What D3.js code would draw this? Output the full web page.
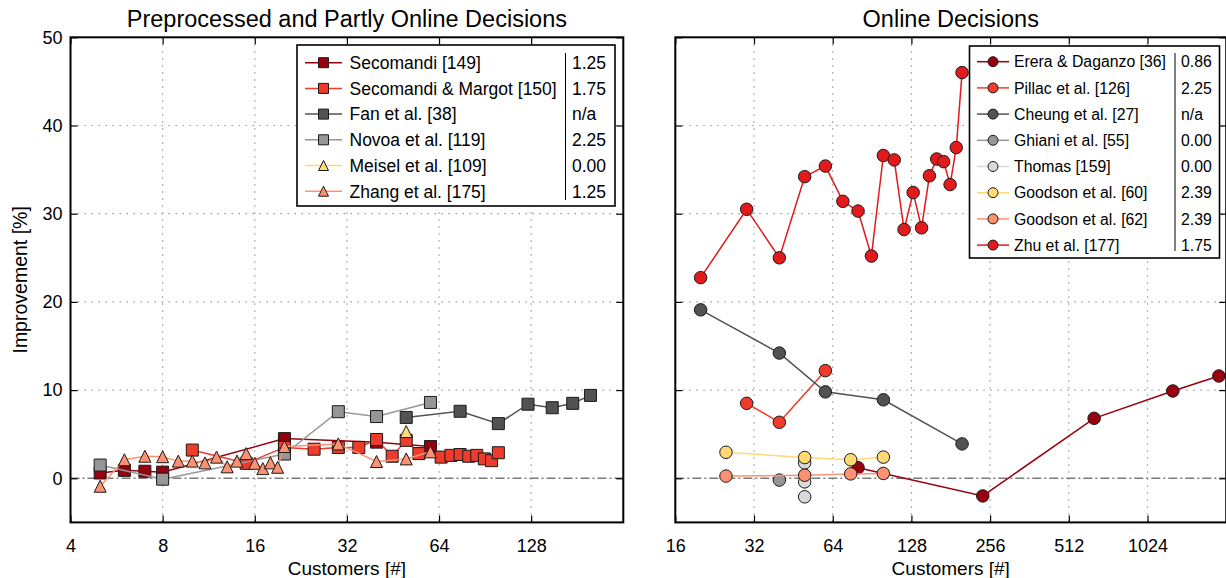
<!DOCTYPE html>
<html>
<head>
<meta charset="utf-8">
<script src="https://cdn.jsdelivr.net/npm/d3@7"></script>
<style>
  body { margin: 0; background: #fff; }
  svg { display: block; font-family: "Liberation Sans", Arial, Helvetica, sans-serif; }
</style>
</head>
<body>
<svg id="chart" width="1226" height="578"></svg>
<script>
// ---------- Left panel: preprocessed and partly online decisions ----------
const secomandiN   = [5, 6, 7, 8, 20, 40, 60];
const secomandiImp = [0.6, 0.9, 0.8, 0.7, 4.5, 4.1, 3.6];

const secMargotN   = [10, 15, 20, 25, 30, 35, 40, 45, 50, 55, 65, 70, 75, 80, 85, 90, 95, 100];
const secMargotImp = [3.2, 1.7, 3.5, 3.3, 3.5, 3.5, 4.4, 2.5, 4.3, 2.8, 2.4, 2.6, 2.7, 2.5, 2.6, 2.2, 2.0, 2.9];

const fanN   = [50, 75, 100, 125, 150, 175, 200];
const fanImp = [6.9, 7.6, 6.2, 8.4, 8.0, 8.5, 9.4];

const novoaN   = [5, 8, 20, 30, 40, 60];
const novoaImp = [1.5, -0.1, 2.75, 7.55, 7.0, 8.6];

const meiselN   = [50];
const meiselImp = [5.3];

const zhangN   = [5, 6, 7, 8, 9, 10, 11, 12, 13, 14, 15, 16, 17, 18, 19, 20, 30, 40, 50, 60];
const zhangImp = [-0.9, 2.1, 2.5, 2.45, 1.95, 1.95, 1.75, 2.4, 1.3, 1.95, 2.8, 1.7, 1.1, 1.75, 1.25, 3.6, 3.9, 1.9, 2.2, 3.0];

// ---------- Right panel: online decisions ----------
const ereraN   = [80, 240, 640, 1280, 1920];
const ereraImp = [1.2, -2.0, 6.8, 9.9, 11.6];

const pillacN   = [30, 40, 60];
const pillacImp = [8.5, 6.35, 12.2];

const cheungN   = [20, 40, 60, 100, 200];
const cheungImp = [19.1, 14.2, 9.8, 8.9, 3.9];

const ghianiN   = [40];
const ghianiImp = [-0.2];

const thomasN   = [50, 50, 50];
const thomasImp = [1.75, -0.4, -2.1];

const goodson60N   = [25, 50, 75, 100];
const goodson60Imp = [2.95, 2.35, 2.1, 2.4];

const goodson62N   = [25, 50, 75, 100];
const goodson62Imp = [0.25, 0.35, 0.5, 0.55];

const zhuN   = [20, 30, 40, 50, 60, 70, 80, 90, 100, 110, 120, 130, 140, 150, 160, 170, 180, 190, 200];
const zhuImp = [22.75, 30.5, 25.0, 34.2, 35.4, 31.4, 30.3, 25.2, 36.6, 36.1, 28.2, 32.4, 28.4, 34.3, 36.2, 35.9, 33.3, 37.5, 46.0];

// ---------- Legend labels and scores ----------
const leftNames  = ["Secomandi [149]", "Secomandi & Margot [150]", "Fan et al. [38]", "Novoa et al. [119]", "Meisel et al. [109]", "Zhang et al. [175]"];
const leftScores = ["1.25", "1.75", "n/a", "2.25", "0.00", "1.25"];
const rightNames  = ["Erera & Daganzo [36]", "Pillac et al. [126]", "Cheung et al. [27]", "Ghiani et al. [55]", "Thomas [159]", "Goodson et al. [60]", "Goodson et al. [62]", "Zhu et al. [177]"];
const rightScores = ["0.86", "2.25", "n/a", "0.00", "0.00", "2.39", "2.39", "1.75"];

// ---------- Axis ticks ----------
const leftXTicks  = [4, 8, 16, 32, 64, 128];
const rightXTicks = [16, 32, 64, 128, 256, 512, 1024];
const yTicks      = [0, 10, 20, 30, 40, 50];

// ---------- Series styling ----------
const leftColors  = ["#99000d", "#ef3b2c", "#525252", "#969696", "#fed976", "#fc9272"];
const leftMarkers = ["square", "square", "square", "square", "triangle", "triangle"];
const rightColors = ["#99000d", "#ef3b2c", "#525252", "#969696", "#d9d9d9", "#fed976", "#fc9272", "#e31a1c"];

const leftSeries = [
  [secomandiN, secomandiImp], [secMargotN, secMargotImp], [fanN, fanImp],
  [novoaN, novoaImp], [meiselN, meiselImp], [zhangN, zhangImp]
].map(([n, imp], i) => ({
  name: leftNames[i], score: leftScores[i], color: leftColors[i], marker: leftMarkers[i],
  points: n.map((v, j) => ({ n: v, imp: imp[j] }))
}));

const rightSeries = [
  [ereraN, ereraImp], [pillacN, pillacImp], [cheungN, cheungImp], [ghianiN, ghianiImp],
  [thomasN, thomasImp], [goodson60N, goodson60Imp], [goodson62N, goodson62Imp], [zhuN, zhuImp]
].map(([n, imp], i) => ({
  name: rightNames[i], score: rightScores[i], color: rightColors[i], marker: "circle",
  points: n.map((v, j) => ({ n: v, imp: imp[j] }))
}));

// ---------- Scales ----------
const y = d3.scaleLinear().domain([-5, 50]).range([522.4, 37.3]);
const xLeft  = d3.scaleLog().base(2).domain([4, 256]).range([70.5, 623.3]);
const xRight = d3.scaleLog().base(2).domain([16, 2048]).range([675.3, 1226.2]);

const svg = d3.select("#chart");
const TICK = 7;

function markerPath(type, size) {
  const s = size / 2;
  if (type === "square") return `M${-s},${-s}H${s}V${s}H${-s}Z`;
  if (type === "triangle") return `M0,${-s}L${s},${s}L${-s},${s}Z`;
  return d3.symbol(d3.symbolCircle, Math.PI * s * s)();
}

function drawPanel(opts) {
  const { x, xTicks, series, title, showYLabels } = opts;
  const [x0, x1] = x.range();
  const [yb, yt] = y.range();
  const g = svg.append("g");

  // dotted grid
  g.append("g")
    .selectAll("line.vgrid")
    .data(xTicks.filter(t => x(t) > x0 + 1))
    .join("line")
    .attr("x1", d => x(d)).attr("x2", d => x(d))
    .attr("y1", yt).attr("y2", yb)
    .attr("stroke", "#9a9a9a").attr("stroke-width", 1.2)
    .attr("stroke-dasharray", "1.5,5.5");
  g.append("g")
    .selectAll("line.hgrid")
    .data(yTicks.filter(t => t > 0 && t < 50))
    .join("line")
    .attr("x1", x0).attr("x2", x1)
    .attr("y1", d => y(d)).attr("y2", d => y(d))
    .attr("stroke", "#9a9a9a").attr("stroke-width", 1.2)
    .attr("stroke-dasharray", "1.5,5.5");

  // dash-dot zero reference
  g.append("line")
    .attr("x1", x0).attr("x2", x1)
    .attr("y1", y(0)).attr("y2", y(0))
    .attr("stroke", "#7a7a7a").attr("stroke-width", 1.6)
    .attr("stroke-dasharray", "9,3,2,3");

  // series: line then markers, in legend order
  const line = d3.line().x(d => x(d.n)).y(d => y(d.imp));
  series.forEach(s => {
    g.append("path")
      .attr("d", line(s.points))
      .attr("fill", "none")
      .attr("stroke", s.color)
      .attr("stroke-width", 1.5);
    g.append("g")
      .selectAll("path")
      .data(s.points)
      .join("path")
      .attr("transform", d => `translate(${x(d.n)},${y(d.imp)})`)
      .attr("d", markerPath(s.marker, s.marker === "circle" ? 12.5 : 12))
      .attr("fill", s.color)
      .attr("stroke", "#1a1a1a")
      .attr("stroke-width", 1);
  });

  // axes with inward ticks
  const fmt = d => String(d);
  const bottom = g.append("g").attr("transform", `translate(0,${yb})`)
    .call(d3.axisBottom(x).tickValues(xTicks).tickSize(-TICK).tickSizeOuter(0).tickPadding(17).tickFormat(fmt));
  const top = g.append("g").attr("transform", `translate(0,${yt})`)
    .call(d3.axisTop(x).tickValues(xTicks).tickSize(-TICK).tickSizeOuter(0).tickFormat(""));
  const left = g.append("g").attr("transform", `translate(${x0},0)`)
    .call(d3.axisLeft(y).tickValues(yTicks).tickSize(-TICK).tickSizeOuter(0).tickPadding(8)
      .tickFormat(showYLabels ? fmt : ""));
  const right = g.append("g").attr("transform", `translate(${x1},0)`)
    .call(d3.axisRight(y).tickValues(yTicks).tickSize(-TICK).tickSizeOuter(0).tickFormat(""));
  [bottom, top, left, right].forEach(a => {
    a.select(".domain").remove();
    a.selectAll(".tick line").attr("stroke", "#000").attr("stroke-width", 1.2);
    a.selectAll(".tick text").attr("font-size", 18).attr("fill", "#000")
      .attr("font-family", "'Liberation Sans', Arial, sans-serif");
  });

  // frame
  g.append("rect")
    .attr("x", x0).attr("y", yt)
    .attr("width", x1 - x0).attr("height", yb - yt)
    .attr("fill", "none").attr("stroke", "#000").attr("stroke-width", 2);

  // titles
  g.append("text")
    .attr("x", (x0 + x1) / 2).attr("y", 27)
    .attr("text-anchor", "middle").attr("font-size", 23.5)
    .text(title);
  g.append("text")
    .attr("x", (x0 + x1) / 2).attr("y", 575)
    .attr("text-anchor", "middle").attr("font-size", 19)
    .text("Customers [#]");

  return g;
}

function drawLegend(g, series, box) {
  const lg = g.append("g");
  lg.append("rect")
    .attr("x", box.x).attr("y", box.y)
    .attr("width", box.w).attr("height", box.h)
    .attr("fill", "#fff").attr("stroke", "#000").attr("stroke-width", 1.6);
  lg.append("line")
    .attr("x1", box.sep).attr("x2", box.sep)
    .attr("y1", box.sepTop).attr("y2", box.sepBottom)
    .attr("stroke", "#000").attr("stroke-width", 1);
  series.forEach((s, i) => {
    const cy = box.firstRow + i * box.rowStep;
    lg.append("line")
      .attr("x1", box.lineX0).attr("x2", box.lineX1)
      .attr("y1", cy).attr("y2", cy)
      .attr("stroke", s.color).attr("stroke-width", 1.5);
    lg.append("path")
      .attr("transform", `translate(${(box.lineX0 + box.lineX1) / 2},${cy})`)
      .attr("d", markerPath(s.marker, 10))
      .attr("fill", s.color).attr("stroke", "#1a1a1a").attr("stroke-width", 1);
    lg.append("text")
      .attr("x", box.textX).attr("y", cy).attr("dy", "0.36em")
      .attr("font-size", box.font).text(s.name);
    lg.append("text")
      .attr("x", box.scoreX).attr("y", cy).attr("dy", "0.36em")
      .attr("font-size", box.font).text(s.score);
  });
}

const gL = drawPanel({
  x: xLeft, xTicks: leftXTicks, series: leftSeries,
  title: "Preprocessed and Partly Online Decisions", showYLabels: true
});
drawLegend(gL, leftSeries, {
  x: 297, y: 45, w: 318, h: 161, sep: 565.5, sepTop: 53, sepBottom: 200,
  firstRow: 62.7, rowStep: 25.7, lineX0: 305, lineX1: 342, textX: 349.5, scoreX: 572, font: 17.5
});

const gR = drawPanel({
  x: xRight, xTicks: rightXTicks, series: rightSeries,
  title: "Online Decisions", showYLabels: false
});
drawLegend(gR, rightSeries, {
  x: 969.5, y: 46, w: 250, h: 212, sep: 1175, sepTop: 53, sepBottom: 251,
  firstRow: 61.7, rowStep: 26.2, lineX0: 977, lineX1: 1009, textX: 1014, scoreX: 1181, font: 15.8
});

// shared y-axis label
svg.append("text")
  .attr("transform", `translate(27,${(y(-5) + y(50)) / 2}) rotate(-90)`)
  .attr("text-anchor", "middle").attr("font-size", 19.5)
  .text("Improvement [%]");
</script>
</body>
</html>
